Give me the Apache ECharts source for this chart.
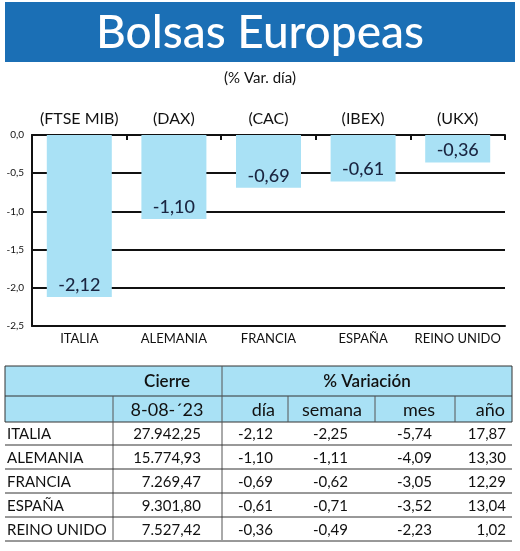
<!DOCTYPE html><html><head><meta charset="utf-8"><script src="https://cdn.jsdelivr.net/npm/echarts@6/dist/echarts.min.js"></script>
<style>body{margin:0}#c{width:520px;height:551px}</style></head><body><div id="c"></div><script>
const countries=['ITALIA','ALEMANIA','FRANCIA','ESPAÑA','REINO UNIDO'];
const indices=['(FTSE MIB)','(DAX)','(CAC)','(IBEX)','(UKX)'];
const dia=[-2.12,-1.10,-0.69,-0.61,-0.36];
const cierre=['27.942,25','15.774,93','7.269,47','9.301,80','7.527,42'];
const semana=[-2.25,-1.11,-0.62,-0.71,-0.49];
const mes=[-5.74,-4.09,-3.05,-3.52,-2.23];
const anio=[17.87,13.30,12.29,13.04,1.02];
const fmt=v=>v.toFixed(2).replace('.',',');
const F='Lato';
const g=[];
g.push({type:'rect',shape:{x:5,y:2,width:510,height:60},style:{fill:'#1b6fb5'}});
g.push({type:'text',style:{x:260,y:33,text:'Bolsas Europeas',font:'500 46px '+F,fill:'#fff',align:'center',verticalAlign:'middle'}});
g.push({type:'text',style:{x:260,y:78,text:'(% Var. día)',font:'15px '+F,fill:'#111',align:'center',verticalAlign:'middle'}});
g.push({type:'rect',shape:{x:5,y:366,width:507,height:56},style:{fill:'#a9e1f5',stroke:'#333',lineWidth:1}});
g.push({type:'line',shape:{x1:5,y1:396,x2:512,y2:396},style:{stroke:'#333',lineWidth:1}});
g.push({type:'line',shape:{x1:222,y1:366,x2:222,y2:540},style:{stroke:'#555',lineWidth:1}});
g.push({type:'line',shape:{x1:113,y1:396,x2:113,y2:540},style:{stroke:'#555',lineWidth:1}});
[288,375,455].forEach(x=>g.push({type:'line',shape:{x1:x,y1:396,x2:x,y2:422},style:{stroke:'#555',lineWidth:1}}));
g.push({type:'text',style:{x:167,y:382,text:'Cierre',font:'600 17px '+F,fill:'#111',align:'center',verticalAlign:'middle'}});
g.push({type:'text',style:{x:367,y:382,text:'% Variación',font:'600 17px '+F,fill:'#111',align:'center',verticalAlign:'middle'}});
const h2=['8-08-´23','día','semana','mes','año'];
const h2x=[167,275,332,435,505];const h2a=['center','right','center','right','right'];
h2.forEach((t,i)=>g.push({type:'text',style:{x:h2x[i],y:410,text:t,font:'18px '+F,fill:'#111',align:h2a[i],verticalAlign:'middle'}}));
countries.forEach((c,r)=>{
  const y=434+r*24;
  const vals=[cierre[r],fmt(dia[r]),fmt(semana[r]),fmt(mes[r]),fmt(anio[r])];
  const xs=[201,273,348,432,506];
  g.push({type:'text',style:{x:7,y:y,text:c,font:'15px '+F,fill:'#111',verticalAlign:'middle'}});
  vals.forEach((v,i)=>g.push({type:'text',style:{x:xs[i],y:y,text:v,font:'15px '+F,fill:'#111',align:'right',verticalAlign:'middle'}}));
  g.push({type:'line',shape:{x1:5,y1:y+11,x2:512,y2:y+11},style:{stroke:'#333',lineWidth:1}});
});
const ch=echarts.init(document.getElementById('c'));
ch.setOption({animation:false,backgroundColor:'#fff',
grid:{left:32,top:135,right:15,bottom:225},
xAxis:[{type:'category',data:indices,position:'top',axisLine:{show:true,lineStyle:{color:'#111',width:2}},axisTick:{show:true,inside:true,length:5,lineStyle:{color:'#111',width:2}},axisLabel:{interval:0,color:'#111',fontFamily:F,fontSize:16,margin:8}},
{type:'category',data:countries,position:'bottom',axisLine:{lineStyle:{color:'#111',width:2}},axisTick:{show:false},axisLabel:{interval:0,color:'#111',fontFamily:F,fontSize:13,margin:6}}],
yAxis:{type:'value',min:-2.5,max:0,interval:0.5,axisLine:{show:true,lineStyle:{color:'#111',width:2}},axisTick:{show:false},splitLine:{lineStyle:{color:'#111',width:2}},axisLabel:{color:'#111',fontFamily:F,fontSize:10,formatter:v=>v.toFixed(1).replace('.',','),margin:8}},
series:[{type:'bar',xAxisIndex:1,data:dia,barWidth:65,itemStyle:{color:'#a9e1f5'},z:3,label:{show:true,position:'insideBottom',color:'#1a2540',fontFamily:F,fontWeight:500,fontSize:18,formatter:p=>fmt(p.value),distance:3}}],
graphic:g});
</script></body></html>
